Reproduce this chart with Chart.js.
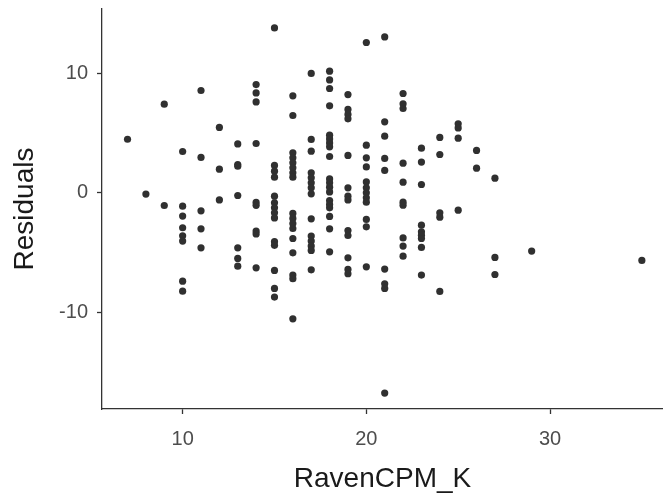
<!DOCTYPE html>
<html lang="en">
<head>
    <meta charset="UTF-8">
    <title>Residuals vs RavenCPM_K</title>
    <script src="https://cdn.jsdelivr.net/npm/chart.js"></script>
    <style>
        html, body { margin: 0; padding: 0; background: #fff; }
        #wrap { width: 663px; height: 499px; position: relative; }
    </style>
</head>
<body>
    <div id="wrap">
        <canvas id="residChart"></canvas>
    </div>

    <script>
        // RavenCPM_K score levels and the residuals observed at each level
        const cpmLevels = [7, 8, 9, 10, 11, 12, 13, 14, 15, 16, 17, 18, 19, 20, 21, 22, 23, 24, 25, 26, 27, 29, 35];
        const residualGroups = [
            [4.5],
            [-0.1],
            [7.44, -1.06],
            [3.47, -1.12, -1.95, -2.93, -3.6, -4.05, -7.41, -8.25],
            [8.59, 2.97, -1.51, -3.02, -4.61],
            [5.49, 1.99, -0.59],
            [4.11, 2.38, 2.24, -0.22, -4.61, -5.5, -6.15],
            [9.09, 8.39, 7.63, 4.14, -0.8, -1.05, -3.2, -3.45, -6.29],
            [13.84, 2.3, 1.82, 1.32, -0.28, -0.84, -1.26, -1.68, -2.1, -4.1, -4.4, -6.51, -8.02, -8.75],
            [8.14, 6.49, 3.36, 2.94, 2.52, 2.1, 1.68, 1.32, -1.73, -2.15, -2.57, -2.99, -3.83, -5.03, -6.9, -7.2, -10.57],
            [10.02, 4.48, 3.5, 1.68, 1.26, 0.84, 0.42, -0.08, -2.18, -3.63, -4.05, -4.47, -4.83, -6.46],
            [10.21, 9.48, 8.76, 7.3, 4.84, 4.53, 4.19, 3.86, 3.05, 1.17, 0.84, 0.48, 0.08, -0.64, -0.97, -1.26, -1.98, -3.02, -4.95],
            [8.25, 7.0, 6.58, 6.21, 3.14, 0.42, -0.28, -0.59, -3.16, -3.58, -5.45, -6.43, -6.79],
            [12.62, 4.0, 2.94, 2.18, 0.92, 0.42, 0.0, -0.42, -0.78, -2.23, -2.85, -6.21],
            [13.09, 5.96, 4.76, 2.89, 1.88, -6.4, -7.63, -8.02, -16.8],
            [8.34, 7.47, 7.08, 2.49, 0.9, -0.78, -1.03, -3.78, -4.47, -5.31],
            [3.75, 2.58, 0.7, -2.71, -3.27, -3.55, -3.83, -4.58, -6.9],
            [4.65, 3.22, -1.68, -2.04, -8.27],
            [5.79, 5.45, 4.59, -1.45],
            [3.56, 2.07],
            [1.23, -5.42, -6.85],
            [-4.89],
            [-5.67]
        ];
        const xTicks = [10, 20, 30];
        const yTicks = [-10, 0, 10];

        const points = cpmLevels.flatMap((cpm, i) =>
            residualGroups[i].map(r => ({ x: cpm, y: r }))
        );

        const fontFamily = '"Liberation Sans", Helvetica, Arial, sans-serif';
        const axisColor = '#333333';

        const keepTicks = list => scale => {
            scale.ticks = list.map(v => ({ value: v }));
        };

        // fixed axis box sizes, no extra room reserved for end labels
        const fixSize = (prop, px) => scale => {
            scale[prop] = px;
            scale.paddingTop = 0;
            scale.paddingBottom = 0;
            scale.paddingLeft = 0;
            scale.paddingRight = 0;
        };

        const ctx = document.getElementById('residChart').getContext('2d');
        new Chart(ctx, {
            type: 'scatter',
            data: {
                datasets: [{
                    data: points,
                    pointRadius: 3.6,
                    pointHoverRadius: 3.6,
                    pointBackgroundColor: '#303030',
                    pointBorderWidth: 0,
                }],
            },
            options: {
                responsive: true,
                maintainAspectRatio: false,
                animation: false,
                events: [],
                layout: { autoPadding: false, padding: { top: 9, right: 0, bottom: 0, left: 0 } },
                plugins: {
                    legend: { display: false },
                    tooltip: { enabled: false },
                },
                scales: {
                    x: {
                        type: 'linear',
                        min: 5.61,
                        max: 36.15,
                        afterBuildTicks: keepTicks(xTicks),
                        afterFit: fixSize('height', 90),
                        border: { display: true, color: axisColor, width: 1.3 },
                        grid: {
                            drawOnChartArea: false,
                            drawTicks: true,
                            tickLength: 5,
                            tickColor: axisColor,
                            tickWidth: 1.3,
                        },
                        ticks: {
                            padding: 13,
                            color: '#4d4d4d',
                            font: { family: fontFamily, size: 20 },
                        },
                        title: {
                            display: true,
                            text: 'RavenCPM_K',
                            color: '#1a1a1a',
                            font: { family: fontFamily, size: 28 },
                            padding: { top: 0, bottom: 3 },
                        },
                    },
                    y: {
                        type: 'linear',
                        min: -18.14,
                        max: 15.43,
                        afterBuildTicks: keepTicks(yTicks),
                        afterFit: fixSize('width', 102),
                        border: { display: true, color: axisColor, width: 1.3 },
                        grid: {
                            drawOnChartArea: false,
                            drawTicks: true,
                            tickLength: 5,
                            tickColor: axisColor,
                            tickWidth: 1.3,
                        },
                        ticks: {
                            padding: 9,
                            color: '#4d4d4d',
                            font: { family: fontFamily, size: 20 },
                        },
                        title: {
                            display: true,
                            text: 'Residuals',
                            color: '#1a1a1a',
                            font: { family: fontFamily, size: 28 },
                            padding: { top: 8, bottom: 0 },
                        },
                    },
                },
            },
        });
    </script>
</body>
</html>
